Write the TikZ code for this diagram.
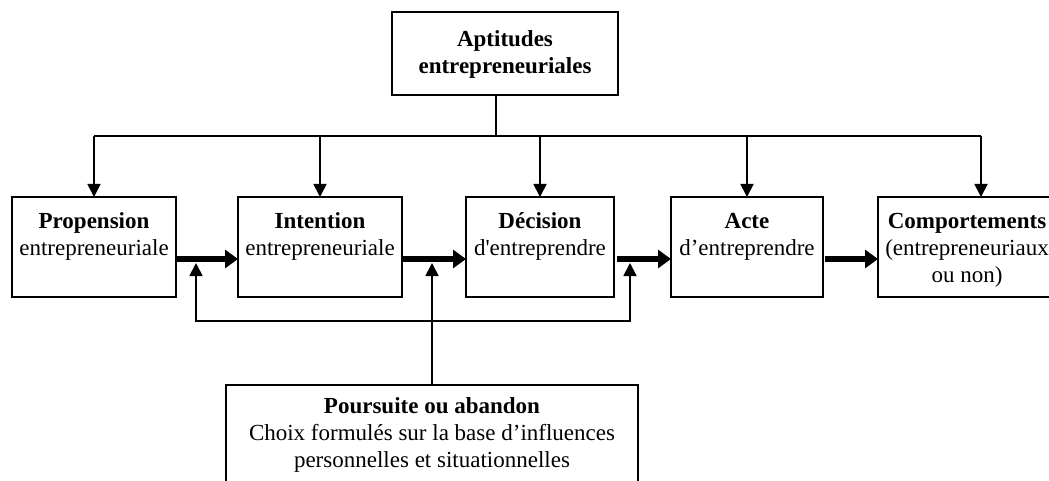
\documentclass[tikz,border=0pt]{standalone}
\usepackage{fontspec}
\setmainfont{Liberation Serif}
\usetikzlibrary{arrows.meta}
\begin{document}
\begin{tikzpicture}[x=1pt,y=-1pt,
  font=\fontsize{23}{27}\selectfont,
  box/.style={draw, line width=1.8pt, anchor=north west, inner sep=0pt, outer sep=0pt},
  txt/.style={anchor=north, align=center, inner sep=0pt},
  link/.style={line width=1.8pt},
  arr/.style={line width=1.8pt, -{Triangle[length=13pt,width=13pt]}},
  twoarr/.style={line width=1.8pt, {Triangle[length=13pt,width=13pt]}-{Triangle[length=13pt,width=13pt]}},
  fat/.style={line width=5.5pt, -{Triangle[length=13pt,width=18pt]}}]
\useasboundingbox (0,0) rectangle (1049,481);
\clip (0,0) rectangle (1049,481);

% boxes
\node[box, minimum width=226pt, minimum height=83pt] (top) at (392,12) {};
\node[box, minimum width=164pt, minimum height=100pt] (b1) at (12,197) {};
\node[box, minimum width=164pt, minimum height=100pt] (b2) at (238,197) {};
\node[box, minimum width=148pt, minimum height=100pt] (b3) at (466,197) {};
\node[box, minimum width=152pt, minimum height=100pt] (b4) at (671,197) {};
\node[box, minimum width=178pt, minimum height=100pt] (b5) at (878,197) {};
\node[box, minimum width=412pt, minimum height=140pt] (bot) at (226,385) {};

% texts
\node[txt] (ttop) at ([yshift=-15pt]top.north) {\strut\textbf{Aptitudes}\\\textbf{entrepreneuriales}};
\node[txt] (t1) at ([yshift=-12pt]b1.north) {\strut\textbf{Propension}\\entrepreneuriale};
\node[txt] (t2) at ([yshift=-12pt]b2.north) {\strut\textbf{Intention}\\entrepreneuriale};
\node[txt] (t3) at ([yshift=-12pt]b3.north) {\strut\textbf{Décision}\\d\textquotesingle entreprendre};
\node[txt] (t4) at ([yshift=-12pt]b4.north) {\strut\textbf{Acte}\\d’entreprendre};
\node[txt] (t5) at ([yshift=-12pt]b5.north) {\strut\textbf{Comportements}\\(entrepreneuriaux\\ou non)};
\node[txt] (tbot) at ([yshift=-9pt]bot.north) {\strut\textbf{Poursuite ou abandon}\\Choix formulés sur la base d’influences\\personnelles et situationnelles};

% distribution line from the top box
\coordinate (hm) at (496,136);
\coordinate (hl) at (b1.north |- hm);
\coordinate (hr) at (981,136);
\draw[link] (hm |- top.south) -- (hm);
\draw[link] (hl) -- (hr);
\draw[arr] (hl) -- (b1.north);
\draw[arr] (b2.north |- hm) -- (b2.north);
\draw[arr] (b3.north |- hm) -- (b3.north);
\draw[arr] (b4.north |- hm) -- (b4.north);
\draw[arr] (hr) -- (hr |- b5.north);

% main sequence
\coordinate (j1) at (196,259);
\coordinate (j2) at (432,259);
\coordinate (j3) at (630,259);
\draw[fat] (b1.east |- j1) -- (b2.west |- j1);
\draw[fat] (b2.east |- j2) -- (b3.west |- j2);
\draw[fat] (617,259) -- (b4.west |- j3);
\draw[fat] (825,259) -- (b5.west |- j3);

% feedback loop
\coordinate (u1) at (196,263);
\coordinate (u2) at (432,263);
\coordinate (u3) at (630,263);
\coordinate (l1) at (196,321);
\coordinate (l3) at (630,321);
\draw[twoarr] (u1) -- (l1) -- (l3) -- (u3);
\draw[arr] (bot.north) -- (u2);
\end{tikzpicture}
\end{document}
